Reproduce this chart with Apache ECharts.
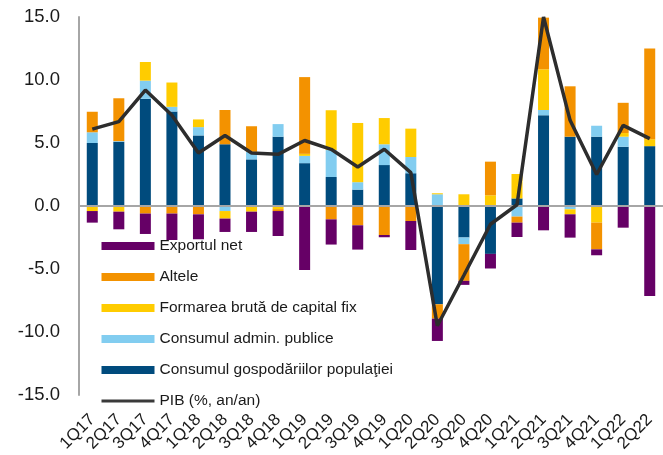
<!DOCTYPE html>
<html>
<head>
<meta charset="utf-8">
<script src="https://cdn.jsdelivr.net/npm/echarts@6/dist/echarts.min.js"></script>
<style>
html,body{margin:0;padding:0;background:#fff;}
#chart{width:663px;height:455px;}
</style>
</head>
<body>
<div id="chart"></div>
<script>
var categories = ['1Q17','2Q17','3Q17','4Q17','1Q18','2Q18','3Q18','4Q18','1Q19','2Q19','3Q19','4Q19','1Q20','2Q20','3Q20','4Q20','1Q21','2Q21','3Q21','4Q21','1Q22','2Q22'];
var consumGosp   = [5.0, 5.1, 8.5, 7.5, 5.6, 4.9, 3.7, 5.5, 3.4, 2.3, 1.3, 3.25, 2.6, -7.8, -2.5, -3.8, 0.6, 7.2, 5.5, 5.5, 4.7, 4.75];
var consumAdmin  = [0.85, 0.05, 1.45, 0.37, 0.66, -0.4, 0.6, 1.0, 0.58, 2.14, 0.59, 1.65, 1.29, 0.93, -0.53, 0, -0.84, 0.42, -0.26, 0.87, 0.8, 0];
var formarea     = [-0.4, -0.45, 1.48, 1.93, 0.61, -0.6, -0.45, -0.25, 0.16, 3.16, 4.7, 2.08, 2.25, 0.08, 0.93, 0.85, 1.94, 3.23, -0.4, -1.32, 0.29, 0.55];
var altele       = [1.63, 3.4, -0.6, -0.6, -0.66, 2.72, 2.03, -0.15, 6.09, -1.06, -1.53, -2.3, -1.19, -1.14, -2.91, 2.67, -0.48, 4.1, 4.0, -2.12, 2.4, 7.2];
var exportNet    = [-0.92, -1.4, -1.62, -2.1, -1.98, -1.06, -1.61, -1.98, -5.08, -2.0, -1.93, -0.18, -2.3, -1.77, -0.32, -1.16, -1.14, -1.93, -1.85, -0.47, -1.72, -7.14];
var pib          = [6.1, 6.7, 9.2, 7.2, 4.2, 5.6, 4.2, 4.1, 5.2, 4.5, 3.1, 4.5, 2.65, -9.5, -5.5, -1.45, 0.1, 15.0, 6.8, 2.5, 6.4, 5.35];
var yTicks = [-15, -10, -5, 0, 5, 10, 15];

var names = {
  gosp: 'Consumul gospodăriilor populaţiei',
  admin: 'Consumul admin. publice',
  form: 'Formarea brută de capital fix',
  alt: 'Altele',
  exp: 'Exportul net',
  pib: 'PIB (%, an/an)'
};
var font = 'Liberation Sans, Arial, Helvetica, sans-serif';

function bar(name, data, color) {
  return {
    name: name, type: 'bar', stack: 'total', data: data, barWidth: 11,
    itemStyle: { color: color }, emphasis: { disabled: true }
  };
}

var series = [
  bar(names.gosp, consumGosp, '#004B7D'),
  bar(names.admin, consumAdmin, '#82CDF0'),
  bar(names.form, formarea, '#FFCC00'),
  bar(names.alt, altele, '#F39200'),
  bar(names.exp, exportNet, '#660066')
];
series[0].markLine = {
  silent: true, symbol: 'none', animation: false,
  label: { show: false },
  lineStyle: { color: '#a6a6a6', width: 2, type: 'solid' },
  data: [{ yAxis: 0 }]
};
series.push({
  name: names.pib, type: 'line', data: pib, symbol: 'none', z: 10,
  lineStyle: { color: '#2d2d2d', width: 3.5 }, itemStyle: { color: '#2d2d2d' },
  emphasis: { disabled: true }
});

var chart = echarts.init(document.getElementById('chart'));
chart.setOption({
  animation: false,
  backgroundColor: '#ffffff',
  grid: { left: 79, right: -12, top: 17, bottom: 60, containLabel: false },
  legend: {
    orient: 'vertical', left: 95, top: 233,
    itemWidth: 53, itemHeight: 8, itemGap: 15,
    selectedMode: false,
    textStyle: { fontFamily: font, fontSize: 15.5, color: '#1a1a1a', lineHeight: 15 },
    data: [
      { name: names.exp, icon: 'rect' },
      { name: names.alt, icon: 'rect' },
      { name: names.form, icon: 'rect' },
      { name: names.admin, icon: 'rect' },
      { name: names.gosp, icon: 'rect' },
      { name: names.pib, itemStyle: { opacity: 0 }, lineStyle: { width: 3, color: '#3a3a3a' } }
    ]
  },
  xAxis: {
    type: 'category', data: categories, boundaryGap: true,
    axisLine: { show: false, onZero: false },
    axisTick: { show: false },
    axisLabel: { rotate: 45, fontFamily: font, fontSize: 17, color: '#1a1a1a', margin: 22, interval: 0 }
  },
  yAxis: {
    type: 'value', min: -15, max: 15, interval: 5,
    axisLine: { show: true, lineStyle: { color: '#a6a6a6', width: 2 } },
    axisTick: { show: false },
    splitLine: { show: false },
    axisLabel: {
      fontFamily: font, fontSize: 18.5, color: '#1a1a1a', margin: 19,
      customValues: yTicks,
      formatter: function (v) { return v.toFixed(1); }
    }
  },
  series: series
});
</script>
</body>
</html>
